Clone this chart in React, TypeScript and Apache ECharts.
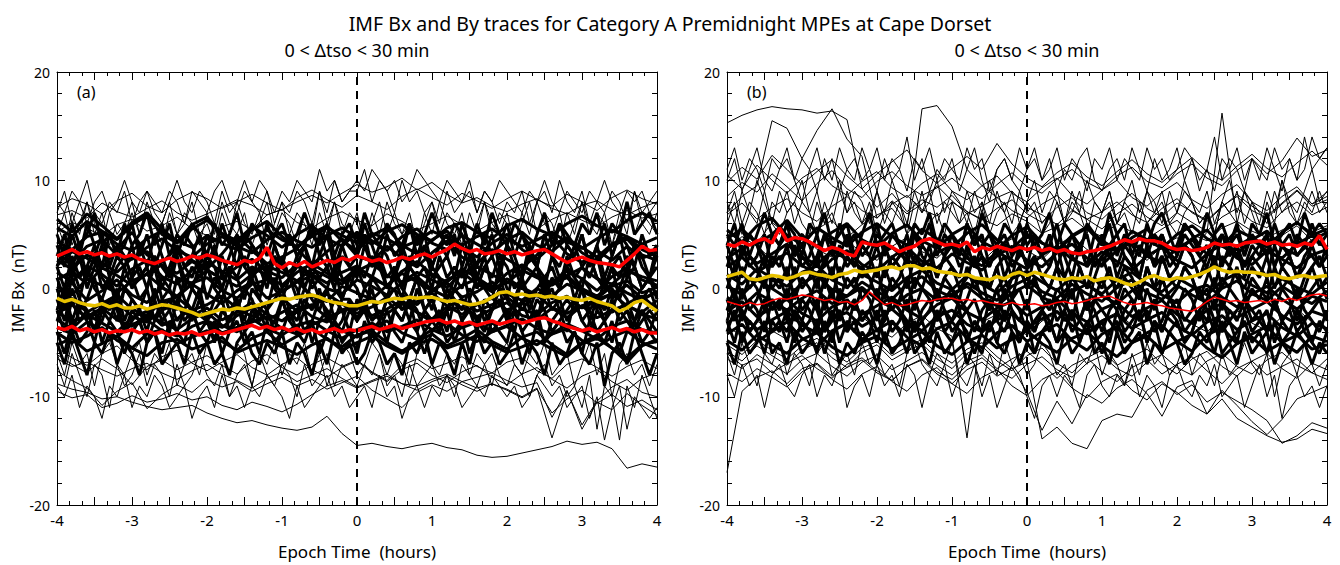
import React, { useEffect, useRef } from "react";
import * as echarts from "echarts";

// Epoch time grids (hours from onset)
const HOURS_12MIN = [
  -4, -3.8, -3.6, -3.4, -3.2, -3, -2.8, -2.6, -2.4, -2.2,
  -2, -1.8, -1.6, -1.4, -1.2, -1, -0.8, -0.6, -0.4, -0.2,
  0, 0.2, 0.4, 0.6, 0.8, 1, 1.2, 1.4, 1.6, 1.8,
  2, 2.2, 2.4, 2.6, 2.8, 3, 3.2, 3.4, 3.6, 3.8, 4,
];

const HOURS_6MIN = [
  -4, -3.9, -3.8, -3.7, -3.6, -3.5, -3.4, -3.3, -3.2, -3.1,
  -3, -2.9, -2.8, -2.7, -2.6, -2.5, -2.4, -2.3, -2.2, -2.1,
  -2, -1.9, -1.8, -1.7, -1.6, -1.5, -1.4, -1.3, -1.2, -1.1,
  -1, -0.9, -0.8, -0.7, -0.6, -0.5, -0.4, -0.3, -0.2, -0.1,
  0, 0.1, 0.2, 0.3, 0.4, 0.5, 0.6, 0.7, 0.8, 0.9,
  1, 1.1, 1.2, 1.3, 1.4, 1.5, 1.6, 1.7, 1.8, 1.9,
  2, 2.1, 2.2, 2.3, 2.4, 2.5, 2.6, 2.7, 2.8, 2.9,
  3, 3.1, 3.2, 3.3, 3.4, 3.5, 3.6, 3.7, 3.8, 3.9, 4,
];

// Individual event traces, IMF Bx (nT), sampled every 12 min
const BX_TRACES: number[][] = [
  [6.8,7.2,6.5,7.9,7.1,6.6,7.4,8.1,7.0,6.3,6.9,7.5,8.2,7.7,6.8,7.3,8.0,8.6,7.9,8.8,9.6,8.9,9.4,10.2,9.1,9.8,8.7,7.9,8.4,7.6,7.1,7.8,8.3,7.4,6.9,7.7,8.1,7.3,6.8,7.5,8.0],
  [5.2,6.1,5.6,4.8,5.9,6.4,5.3,5.8,6.6,5.5,4.9,5.7,6.2,5.4,6.8,7.3,6.1,5.6,6.5,7.1,6.3,5.8,6.9,6.2,5.4,6.0,6.7,5.9,5.3,6.1,6.8,6.2,5.5,6.4,7.0,6.3,5.7,6.6,7.2,6.5,6.9],
  [4.3,3.6,4.8,5.2,4.1,3.5,4.6,5.3,4.4,3.8,4.9,4.2,3.6,4.7,5.4,4.5,3.9,4.8,5.6,4.9,4.2,5.1,4.6,3.8,4.4,5.3,4.7,4.0,4.8,5.5,4.6,3.9,4.5,5.2,4.3,3.7,4.6,5.4,4.8,4.1,4.7],
  [2.1,3.4,2.8,1.9,3.6,5.2,3.1,2.4,3.8,2.6,1.8,3.2,4.9,3.5,2.3,2.9,3.7,2.2,3.4,4.6,3.0,2.5,3.9,2.8,2.0,3.3,4.4,2.9,2.3,3.6,2.7,1.9,3.1,4.8,3.2,2.4,3.5,2.6,3.9,2.8,3.3],
  [0.8,1.6,0.4,1.9,1.2,0.3,1.4,2.2,1.0,0.5,1.7,0.9,0.2,1.3,2.1,1.5,0.7,1.8,1.1,0.4,1.6,2.3,1.2,0.6,1.5,0.8,0.1,1.4,2.0,1.3,0.5,1.7,1.0,0.3,1.2,1.9,0.9,0.4,1.6,1.1,0.7],
  [-0.4,0.5,-1.1,-0.2,0.8,-0.6,-1.3,0.1,-0.8,0.4,-0.5,-1.4,-0.2,0.6,-0.9,-0.3,0.7,-0.7,-1.2,0.2,-0.4,-1.0,0.3,-0.6,-1.5,-0.1,0.5,-0.8,-0.3,0.6,-0.5,-1.1,0.0,-0.7,0.4,-0.2,-1.0,-0.5,0.3,-0.9,-0.4],
  [-2.3,-1.5,-2.8,-1.9,-1.2,-2.6,-3.1,-2.0,-1.4,-2.5,-1.8,-2.9,-2.2,-1.3,-2.4,-3.0,-1.9,-1.5,-2.7,-2.1,-1.6,-2.8,-2.3,-1.4,-2.2,-3.1,-2.0,-1.7,-2.6,-1.9,-1.3,-2.5,-2.9,-1.8,-2.3,-1.6,-2.7,-2.0,-1.5,-2.4,-2.8],
  [-3.6,-4.2,-3.1,-3.8,-4.5,-3.3,-2.9,-3.9,-4.4,-3.5,-3.0,-4.1,-3.6,-2.8,-3.7,-4.3,-3.4,-3.0,-3.9,-4.6,-3.8,-3.2,-4.0,-3.5,-2.9,-3.8,-4.4,-3.6,-3.1,-4.0,-3.4,-2.8,-3.7,-4.2,-3.3,-3.9,-4.7,-3.5,-3.0,-3.8,-4.1],
  [-5.2,-4.6,-5.8,-5.1,-4.4,-5.5,-6.2,-5.0,-4.7,-5.6,-5.1,-4.5,-5.9,-5.3,-4.8,-5.4,-6.1,-5.2,-4.6,-5.7,-5.0,-4.4,-5.3,-6.0,-5.1,-4.7,-5.5,-5.0,-4.3,-5.2,-5.9,-5.4,-4.8,-5.6,-6.3,-5.1,-4.6,-5.5,-6.4,-5.2,-4.9],
  [-6.1,-7.0,-7.8,-6.5,-7.4,-8.9,-7.2,-6.6,-7.5,-6.8,-6.2,-7.1,-7.9,-6.7,-6.1,-7.3,-8.0,-7.0,-6.4,-7.2,-6.6,-7.7,-8.5,-7.1,-6.5,-7.4,-6.9,-6.3,-7.2,-7.8,-6.8,-6.4,-7.6,-8.3,-7.0,-6.5,-7.3,-8.1,-7.2,-6.6,-7.4],
  [-7.6,-8.5,-9.2,-10.8,-9.5,-8.7,-11.1,-9.8,-8.9,-9.6,-8.4,-9.1,-8.6,-9.5,-8.8,-8.2,-9.0,-8.4,-9.3,-8.7,-8.1,-9.4,-10.2,-11.0,-9.6,-8.9,-9.5,-8.6,-9.2,-8.8,-9.4,-10.1,-9.3,-11.5,-10.2,-9.4,-10.6,-9.8,-10.9,-10.3,-11.2],
  [-8.8,-9.3,-9.6,-10.2,-10.0,-10.5,-10.9,-11.2,-11.0,-10.8,-11.5,-12.0,-12.4,-12.2,-12.6,-12.9,-13.1,-12.8,-11.8,-13.4,-14.5,-14.3,-14.6,-14.8,-14.5,-14.3,-14.7,-14.9,-15.4,-15.6,-15.5,-15.2,-14.9,-14.6,-14.1,-14.4,-14.2,-14.8,-16.6,-16.2,-16.5],
  [-6.5,-7.2,-6.8,-7.5,-8.1,-7.4,-6.9,-7.8,-8.4,-7.6,-7.0,-7.9,-8.5,-9.2,-8.3,-7.7,-8.6,-8.0,-7.4,-8.3,-9.1,-8.5,-7.9,-8.8,-9.4,-8.6,-8.1,-8.9,-9.5,-8.8,-9.3,-10.0,-9.2,-13.8,-9.5,-12.6,-10.4,-9.1,-8.4,-9.6,-10.0],
  [-9.5,-10.1,-9.8,-11.0,-10.6,-9.9,-10.5,-10.2,-9.7,-10.3,-10.0,-10.8,-11.2,-10.5,-10.9,-11.4,-10.7,-9.8,-9.0,-8.5,-9.2,-8.6,-8.1,-8.8,-9.0,-8.4,-7.9,-8.6,-8.2,-7.8,-8.5,-9.1,-8.7,-11.9,-9.4,-13.0,-10.5,-11.2,-9.7,-10.8,-11.7],
  [3.2,2.4,3.9,4.5,3.1,2.7,3.8,4.6,3.5,2.9,4.1,4.8,3.9,3.3,4.5,5.2,4.4,3.8,4.9,5.6,4.7,4.1,5.3,5.9,5.0,4.4,5.6,6.1,5.2,4.6,5.8,6.4,5.5,4.9,6.0,6.7,5.8,5.2,6.3,7.0,6.2],
  [1.5,0.6,2.1,1.3,0.2,1.8,2.6,1.1,0.4,1.7,2.4,1.6,0.8,2.0,1.2,0.3,1.5,2.3,1.4,0.7,1.9,1.1,0.2,1.6,2.5,1.3,0.6,1.8,1.0,0.1,1.4,2.2,1.2,0.5,1.7,0.9,-0.2,1.1,1.9,0.8,0.3],
  [-1.8,-0.9,-2.2,-1.4,-0.6,-1.9,-2.5,-1.2,-0.8,-2.0,-1.5,-0.7,-1.8,-2.6,-1.3,-0.9,-2.1,-1.6,-0.5,-1.4,-2.3,-1.7,-0.8,-1.9,-1.2,-0.4,-1.6,-2.4,-1.5,-0.9,-2.0,-1.3,-0.6,-1.8,-2.7,-1.6,-1.0,-2.2,-1.4,-0.7,-1.9],
  [-4.1,-5.0,-4.4,-3.6,-4.8,-5.5,-4.2,-3.8,-5.1,-4.5,-3.9,-4.9,-5.7,-4.6,-4.0,-5.2,-4.4,-3.7,-4.7,-5.4,-4.3,-3.9,-5.0,-5.8,-4.9,-4.2,-5.3,-4.6,-3.8,-4.9,-5.6,-4.5,-4.0,-5.2,-6.1,-5.0,-4.3,-5.5,-6.8,-5.3,-4.7],
  [2.6,1.8,3.1,2.3,1.5,2.8,3.4,2.1,1.4,2.5,1.7,0.9,2.0,2.7,1.6,1.0,2.2,1.3,0.5,1.5,2.1,0.9,0.3,1.4,0.6,-0.2,0.8,1.5,0.4,-0.3,0.9,0.1,-0.6,0.5,1.2,0.0,-0.7,0.4,-0.4,-1.1,-0.2],
  [5.6,4.8,6.2,5.3,4.5,5.9,6.7,5.0,4.2,5.5,6.3,5.1,4.4,5.7,4.9,3.8,5.0,5.8,4.6,3.9,5.2,4.4,3.5,4.8,5.5,4.2,3.6,4.9,4.1,3.3,4.5,5.2,4.0,3.4,4.6,3.8,2.9,4.1,4.8,3.6,3.0],
  [-2.9,-3.7,-2.4,-3.2,-4.0,-2.7,-2.1,-3.4,-2.8,-1.9,-3.0,-3.6,-2.5,-1.8,-2.9,-2.2,-1.5,-2.6,-3.1,-2.0,-1.4,-2.5,-1.9,-1.1,-2.2,-2.8,-1.7,-1.0,-2.1,-1.5,-0.8,-1.9,-2.4,-1.3,-0.7,-1.8,-1.2,-0.5,-1.6,-2.2,-1.1],
  [7.5,8.3,7.8,6.9,8.1,8.8,7.6,7.0,8.2,8.9,8.3,7.4,8.0,8.7,7.9,7.2,8.4,9.1,8.2,7.5,8.6,8.0,7.3,8.5,9.2,8.4,7.7,8.8,8.1,7.4,8.3,9.0,8.2,7.6,8.7,8.0,7.2,8.4,9.1,8.3,7.8],
  [-5.5,-6.4,-7.1,-6.0,-5.3,-6.6,-7.5,-6.3,-5.7,-6.9,-7.6,-6.8,-6.1,-7.3,-8.0,-7.0,-6.4,-7.5,-8.2,-7.3,-6.7,-7.8,-8.6,-7.5,-6.9,-8.0,-8.7,-7.7,-7.1,-8.2,-8.9,-7.9,-7.3,-8.4,-9.2,-8.1,-7.5,-8.6,-9.4,-8.3,-7.8],
  [0.2,-0.6,0.9,0.3,-0.4,0.7,1.3,0.1,-0.7,0.5,1.0,-0.2,-0.9,0.4,0.8,-0.3,0.6,1.2,0.0,-0.5,0.8,0.2,-0.6,0.5,1.1,-0.1,-0.8,0.3,0.9,-0.2,0.6,0.0,-0.7,0.4,1.0,-0.3,-0.9,0.2,0.7,-0.4,0.1],
  [-2.2,-3.0,-2.6,-1.8,-2.9,-3.5,-2.4,-3.1,-3.8,-2.8,-2.2,-3.4,-4.0,-3.1,-2.6,-3.7,-4.2,-3.3,-2.8,-3.9,-4.5,-3.6,-3.0,-4.1,-4.7,-3.8,-3.2,-4.3,-4.9,-4.0,-3.5,-4.6,-5.2,-4.2,-3.7,-4.8,-5.4,-4.5,-3.9,-5.0,-5.6],
  [6.4,5.2,6.9,5.8,4.6,6.1,7.0,5.5,4.3,5.9,6.6,5.0,4.1,5.4,6.2,4.8,3.7,5.1,5.8,4.4,3.5,4.9,5.6,4.0,3.2,4.5,5.3,3.8,2.9,4.2,5.0,3.6,2.7,4.0,4.7,3.3,2.5,3.9,4.6,3.1,2.6],
];

// Further IMF Bx (nT) traces, sampled every 6 min
const BX_TRACES_6MIN: number[][] = [
  [7,9,6,8,10,7,6,8,7,9,6,8,9,7,6,8,10,8,7,9,8,6,9,7,8,10,8,7,9,6,8,7,9,8,6,9,7,10,8,9,9,11,8,10,9,7,10,8,9,7,8,6,9,7,8,10,7,9,8,6,8,7,9,6,8,9,7,10,8,7,9,6,8,7,9,8,6,9,7,8,9],
  [5,7,4,6,8,5,7,4,6,5,7,5,8,6,4,7,5,6,8,5,6,4,7,5,8,6,5,7,4,6,8,5,7,6,4,7,5,8,6,5,7,4,6,8,5,7,5,6,4,7,5,8,6,5,7,4,6,8,5,7,6,4,7,5,8,6,5,7,4,6,8,5,7,6,4,7,5,9,6,5,7],
  [4,2,5,3,6,4,2,5,3,4,6,3,5,2,4,6,3,5,4,2,5,3,6,4,2,5,4,3,6,4,2,5,3,4,6,3,5,2,4,5,3,6,4,2,5,3,4,6,3,5,2,4,5,3,6,4,2,5,3,4,6,3,5,4,2,5,3,6,4,3,5,2,4,6,3,5,4,2,5,3,4],
  [3,5,2,4,1,3,5,2,4,3,1,4,2,5,3,1,4,2,3,5,2,4,1,3,5,2,4,3,1,4,2,5,3,4,2,5,3,1,4,2,3,5,2,4,3,1,4,2,5,3,2,4,3,5,2,4,1,3,5,2,4,3,1,4,2,5,3,2,4,3,5,2,4,1,3,5,2,4,3,1,4],
  [2,0,3,1,2,4,1,0,2,3,1,2,0,3,2,1,3,0,2,1,3,2,0,2,1,3,1,2,0,3,2,1,3,0,2,1,2,3,1,0,2,1,3,2,0,1,3,2,1,2,0,3,1,2,1,3,0,2,1,3,2,0,1,3,2,1,2,0,3,1,2,3,1,0,2,1,3,2,0,1,2],
  [0,-2,1,-1,2,0,-1,1,-2,0,1,-1,0,2,-1,0,-2,1,0,-1,2,0,-1,1,-2,0,1,-1,2,0,-1,1,0,-2,1,-1,0,2,-1,1,0,-2,1,0,-1,2,0,-1,1,0,-2,1,-1,0,2,-1,1,0,-1,2,0,-1,1,-2,0,1,-1,0,2,-1,1,0,-2,1,-1,0,2,-1,0,1,-1],
  [-1,-3,0,-2,-1,1,-2,-1,-3,0,-1,-2,0,-3,-1,-2,1,-1,-2,0,-3,-1,0,-2,-1,-3,0,-1,-2,1,-1,-3,-2,0,-1,-2,0,-3,-1,-1,-2,0,-1,-3,-1,0,-2,-1,1,-2,-1,-3,0,-1,-2,0,-1,-3,-2,0,-1,-2,1,-1,-3,-1,0,-2,-1,-2,0,-3,-1,-2,0,-1,-2,-3,-1,0,-2],
  [-2,-4,-1,-3,-2,-4,-3,-1,-2,-4,-3,-2,-4,-1,-3,-2,-4,-2,-3,-1,-3,-4,-2,-3,-1,-4,-2,-3,-2,-4,-1,-3,-2,-4,-3,-1,-2,-3,-4,-2,-3,-1,-3,-2,-4,-2,-3,-1,-2,-4,-3,-2,-4,-1,-3,-2,-3,-4,-2,-1,-3,-2,-4,-3,-1,-2,-4,-3,-2,-1,-3,-4,-2,-3,-1,-3,-2,-4,-3,-2,-3],
  [-4,-6,-3,-5,-4,-2,-5,-3,-4,-6,-4,-3,-5,-4,-6,-3,-4,-5,-2,-4,-5,-3,-6,-4,-3,-5,-4,-6,-3,-5,-4,-2,-4,-5,-3,-6,-4,-3,-5,-4,-6,-3,-5,-4,-2,-4,-5,-3,-4,-6,-4,-3,-5,-4,-3,-6,-4,-5,-3,-4,-5,-2,-4,-6,-3,-5,-4,-3,-5,-4,-6,-3,-4,-5,-3,-6,-4,-3,-5,-4,-5],
  [-5,-7,-4,-6,-8,-5,-6,-4,-7,-5,-6,-8,-5,-4,-7,-6,-5,-7,-4,-6,-5,-7,-6,-8,-5,-4,-6,-7,-5,-6,-4,-7,-5,-6,-8,-5,-7,-4,-6,-5,-7,-6,-4,-5,-7,-6,-8,-5,-6,-4,-7,-5,-6,-8,-5,-7,-4,-6,-5,-7,-6,-4,-7,-5,-6,-8,-5,-7,-6,-4,-6,-7,-5,-9,-6,-5,-7,-4,-6,-8,-6],
  [-7,-9,-6,-8,-10,-7,-8,-11,-7,-9,-8,-6,-9,-7,-8,-10,-7,-9,-8,-6,-8,-9,-7,-10,-8,-7,-9,-6,-8,-9,-7,-8,-10,-7,-9,-8,-6,-9,-7,-8,-9,-7,-8,-6,-9,-8,-10,-7,-9,-8,-7,-9,-8,-10,-7,-8,-9,-7,-6,-8,-9,-7,-8,-10,-8,-7,-9,-8,-10,-9,-11,-8,-13,-9,-10,-14,-9,-11,-8,-10,-12],
  [6,4,7,5,8,6,4,7,5,6,8,5,7,4,6,8,5,7,6,4,7,5,8,6,5,7,4,6,8,5,7,6,4,7,5,9,6,8,5,7,6,4,7,5,8,6,5,7,4,6,8,5,7,6,4,7,5,8,6,5,7,4,6,8,5,7,6,4,7,5,8,6,5,7,4,6,8,5,7,6,5],
  [2,4,1,3,0,2,4,1,3,2,4,1,2,3,0,2,4,2,1,3,2,0,3,1,4,2,1,3,2,0,3,1,2,4,1,3,2,0,3,2,1,4,2,3,1,2,0,3,2,4,1,2,3,1,4,2,0,2,3,1,4,2,1,3,2,0,3,1,2,4,2,1,3,0,2,3,1,4,2,1,3],
  [-3,-1,-4,-2,-3,-5,-2,-3,-1,-4,-2,-3,-5,-3,-2,-4,-1,-3,-2,-4,-3,-5,-2,-3,-1,-4,-3,-2,-4,-3,-1,-3,-4,-2,-5,-3,-2,-4,-3,-1,-3,-2,-4,-3,-5,-2,-3,-1,-4,-2,-3,-4,-2,-5,-3,-1,-3,-2,-4,-3,-2,-4,-1,-3,-2,-5,-3,-2,-4,-1,-3,-2,-4,-3,-5,-2,-3,-4,-2,-3,-4],
  [1,-1,2,0,1,3,0,1,-1,2,0,1,2,-1,1,0,3,1,0,2,-1,1,0,2,1,-1,2,0,1,3,0,1,-1,2,0,1,2,0,-1,1,2,0,1,3,0,1,-1,2,1,0,2,1,-1,1,0,2,1,3,0,1,-1,2,0,1,2,-1,1,0,2,1,0,3,1,0,2,-1,1,2,0,1,0],
  [-6,-8,-5,-7,-6,-9,-6,-5,-7,-8,-6,-5,-8,-6,-7,-5,-9,-7,-6,-8,-5,-7,-6,-8,-5,-6,-9,-6,-7,-5,-8,-6,-7,-5,-8,-6,-9,-7,-5,-6,-8,-7,-5,-6,-8,-6,-7,-9,-6,-5,-7,-8,-6,-7,-5,-8,-6,-7,-9,-6,-5,-7,-8,-6,-7,-5,-8,-7,-6,-9,-7,-5,-8,-6,-10,-7,-6,-8,-7,-9,-7],
  [5,3,6,4,5,7,4,5,3,6,4,5,7,4,6,3,5,4,6,5,3,6,4,5,7,4,6,5,3,5,6,4,5,7,5,4,6,3,5,6,4,7,5,4,6,5,3,6,4,5,7,5,4,6,5,3,6,4,7,5,4,6,5,3,5,7,4,6,5,4,6,5,7,4,6,5,8,5,6,7,5],
  [-2,0,-3,-1,-2,-4,-1,-2,0,-3,-1,-2,-3,0,-2,-1,-3,-2,0,-1,-3,-2,-1,-4,-2,0,-1,-3,-2,-1,0,-2,-3,-1,-2,0,-3,-1,-2,-4,-1,-2,0,-3,-1,-2,-1,-3,0,-2,-1,-3,-2,0,-1,-2,-4,-1,-2,0,-3,-1,-2,-1,-3,0,-2,-1,-3,-2,0,-2,-1,-3,-2,0,-1,-3,-2,-4,-2],
  [8,7,9,8,6,8,9,7,8,10,8,7,9,8,7,9,8,6,9,8,7,9,10,8,7,9,8,10,9,7,9,8,10,9,8,11,9,10,8,9,10,9,11,10,9,10,8,9,11,10,9,8,10,9,8,9,7,9,8,10,9,8,7,9,8,10,8,7,9,8,7,9,8,10,8,7,9,8,9,7,8],
  [-9,-10,-8,-11,-9,-10,-12,-9,-10,-8,-11,-9,-10,-8,-9,-11,-10,-9,-12,-10,-9,-11,-8,-10,-9,-11,-9,-10,-8,-9,-10,-12,-9,-11,-10,-9,-8,-10,-9,-11,-10,-9,-11,-8,-10,-9,-12,-10,-9,-11,-9,-10,-8,-9,-11,-10,-9,-10,-8,-9,-10,-9,-11,-10,-8,-9,-10,-9,-11,-10,-9,-12,-10,-14,-11,-9,-13,-10,-11,-12,-11],
];

// Individual event traces, IMF By (nT), sampled every 12 min
const BY_TRACES: number[][] = [
  [15.3,16.0,16.5,16.8,16.6,16.5,16.2,16.4,15.6,9.2,7.5,8.8,7.1,8.2,7.5,8.6,7.1,6.4,5.8,6.9,6.2,5.1,5.7,6.5,5.4,4.8,6.0,5.2,4.6,5.5,6.3,5.0,4.4,5.6,6.2,5.3,4.7,5.4,6.1,5.2,5.8],
  [7.0,8.5,9.5,15.5,14.8,12.0,14.6,16.6,13.8,12.2,6.5,8.1,6.9,7.8,9.5,8.1,6.9,7.6,8.4,7.2,6.5,7.8,8.6,7.3,6.4,7.1,8.0,6.8,6.1,7.4,8.3,7.0,6.2,7.5,8.7,7.6,6.7,7.9,9.1,7.8,8.5],
  [4.5,5.6,4.2,6.1,5.0,3.8,5.5,6.3,4.7,5.9,6.8,7.4,5.6,16.6,16.9,15.0,11.0,9.5,8.4,9.0,7.5,6.8,5.9,7.2,6.4,5.5,6.9,7.8,6.6,5.8,7.0,6.1,5.3,6.6,7.4,6.2,5.6,7.1,8.0,6.8,7.5],
  [3.5,4.8,3.9,2.7,4.2,5.1,3.6,2.9,4.4,3.3,2.6,3.9,4.7,3.4,2.8,4.1,3.2,2.5,3.8,4.6,3.5,2.7,4.0,4.8,3.6,2.9,4.3,3.4,2.6,3.9,4.7,3.5,5.2,16.2,6.1,4.3,3.6,4.9,5.8,4.4,3.8],
  [8.5,9.8,8.9,10.6,9.4,8.1,9.7,10.9,9.2,8.4,9.9,10.8,9.5,8.6,9.3,10.2,9.0,8.3,9.6,10.7,9.4,8.8,10.1,11.0,9.8,9.1,10.4,11.2,9.9,9.3,10.6,11.5,10.2,9.5,10.9,12.0,10.6,11.8,13.9,12.2,12.8],
  [6.8,7.9,6.4,7.5,8.3,7.0,6.2,7.6,8.5,7.2,6.5,7.8,8.6,7.3,6.7,8.0,7.1,6.3,7.4,8.2,6.9,6.1,7.5,8.4,7.0,6.4,7.7,8.8,7.4,6.6,7.9,7.1,6.3,7.6,8.5,7.2,6.5,7.8,9.0,7.6,8.2],
  [5.4,4.3,5.8,6.5,4.9,4.1,5.6,4.7,3.9,5.2,6.0,4.8,4.0,5.5,4.6,3.8,5.1,5.9,4.5,3.7,5.0,4.2,3.5,4.9,5.7,4.4,3.6,5.3,4.5,3.7,5.0,5.8,4.6,3.9,5.4,4.7,3.8,5.2,6.1,4.9,5.5],
  [2.8,3.7,2.3,3.2,4.1,2.9,2.2,3.5,2.7,1.9,3.0,3.8,2.6,2.0,3.3,4.0,2.8,2.1,3.4,2.6,1.8,3.1,3.9,2.7,2.1,3.4,2.5,1.7,3.0,3.8,2.6,1.9,3.2,4.1,2.8,2.2,3.5,2.7,1.9,3.1,3.6],
  [1.3,0.4,1.8,1.0,0.2,1.5,2.1,0.8,0.1,1.3,0.6,-0.2,1.0,1.7,0.5,-0.1,1.2,0.4,-0.4,0.9,1.6,0.6,-0.2,1.1,0.3,-0.5,0.8,1.5,0.4,-0.3,1.0,0.2,-0.6,0.7,1.4,0.3,-0.4,0.9,0.1,-0.5,0.6],
  [-0.8,-1.7,-0.4,-1.2,-2.0,-0.9,-0.2,-1.4,-0.7,0.1,-1.0,-1.8,-0.6,0.0,-1.1,-0.5,0.2,-0.9,-1.6,-0.4,0.3,-0.8,-1.5,-0.3,0.4,-0.7,-1.4,-0.2,0.5,-0.6,-1.3,-0.1,0.3,-0.8,-1.7,-0.5,0.2,-1.0,-1.9,-0.7,-1.2],
  [-3.2,-2.3,-3.8,-2.9,-2.1,-3.4,-4.1,-2.8,-2.2,-3.5,-2.7,-1.9,-3.1,-3.9,-2.6,-2.0,-3.3,-4.0,-2.9,-2.3,-3.6,-2.8,-2.1,-3.4,-4.2,-3.0,-2.4,-3.7,-2.9,-2.2,-3.5,-4.3,-3.1,-2.5,-3.8,-3.0,-2.3,-3.6,-4.4,-3.2,-3.7],
  [-4.8,-5.7,-4.3,-5.2,-6.0,-4.7,-4.1,-5.4,-6.2,-5.0,-4.4,-5.6,-4.8,-4.0,-5.3,-6.1,-4.9,-4.3,-5.5,-4.7,-3.9,-5.1,-5.9,-4.6,-4.0,-5.3,-6.3,-5.0,-4.4,-5.7,-4.9,-4.2,-5.5,-6.4,-5.1,-4.5,-5.8,-5.0,-4.3,-5.6,-5.2],
  [-6.5,-7.4,-6.1,-7.0,-7.9,-6.6,-6.0,-7.2,-8.1,-6.8,-6.2,-7.5,-6.7,-5.9,-7.1,-8.0,-6.7,-6.1,-7.4,-6.5,-5.8,-7.0,-8.3,-7.1,-6.4,-7.7,-8.6,-7.3,-6.6,-7.9,-7.0,-6.3,-7.6,-8.8,-7.4,-6.7,-8.0,-7.2,-6.5,-7.8,-8.4],
  [-17.0,-9.5,-8.2,-7.6,-8.8,-7.4,-6.9,-8.1,-7.3,-6.6,-7.8,-8.5,-7.2,-6.5,-7.7,-8.4,-7.1,-6.4,-7.6,-8.3,-7.0,-6.3,-7.5,-8.2,-6.9,-6.2,-7.4,-8.1,-6.8,-6.1,-7.3,-8.0,-6.7,-6.0,-7.2,-7.9,-6.6,-5.9,-7.1,-7.8,-6.5],
  [-3.5,-4.4,-3.0,-3.9,-4.7,-3.4,-2.8,-4.1,-3.3,-2.6,-3.8,-4.5,-3.2,-2.5,-3.7,-4.4,-13.8,-3.1,-2.4,-3.6,-4.3,-3.0,-2.3,-3.5,-4.2,-2.9,-2.2,-3.4,-4.1,-2.8,-2.1,-3.3,-4.0,-2.7,-2.0,-3.2,-3.9,-2.6,-1.9,-3.1,-3.8],
  [-5.2,-6.1,-4.8,-5.7,-6.5,-5.3,-4.6,-5.9,-6.8,-5.5,-4.9,-6.2,-5.4,-4.7,-6.0,-6.9,-5.6,-5.0,-6.3,-7.4,-6.8,-13.9,-12.8,-14.3,-14.8,-12.2,-11.6,-11.9,-9.4,-8.6,-9.8,-8.9,-10.5,-9.6,-10.4,-11.2,-12.2,-14.3,-13.6,-12.4,-12.9],
  [-6.0,-7.1,-6.5,-7.8,-6.9,-6.2,-7.4,-8.3,-7.0,-6.4,-7.6,-8.5,-7.2,-6.6,-7.9,-8.8,-7.5,-6.8,-8.1,-7.3,-9.6,-13.1,-10.4,-12.5,-9.8,-10.6,-9.2,-8.4,-9.7,-11.8,-9.1,-8.5,-11.6,-9.4,-10.8,-12.3,-13.5,-12.1,-10.2,-9.6,-9.0],
  [9.8,11.2,10.1,12.3,11.0,9.6,10.8,11.9,10.4,9.2,10.6,11.7,12.8,10.9,9.7,11.1,12.2,11.0,13.4,11.5,10.2,9.4,10.7,11.6,10.3,9.5,10.8,11.9,10.6,9.8,11.0,12.1,10.8,10.0,11.3,12.4,11.1,10.3,11.6,12.7,11.4],
  [2.0,2.9,1.5,2.4,3.3,2.1,1.4,2.7,3.5,2.2,1.6,2.9,3.8,2.5,1.9,3.2,2.4,1.7,3.0,3.9,2.6,2.0,3.3,4.1,2.8,2.2,3.5,4.3,3.0,2.4,3.7,4.5,3.2,2.6,3.9,4.7,3.4,2.8,4.1,4.9,3.6],
  [-2.1,-1.2,-2.6,-1.8,-1.0,-2.3,-3.0,-1.7,-1.1,-2.4,-1.6,-0.8,-2.0,-2.8,-1.5,-0.9,-2.2,-2.9,-1.8,-1.2,-2.5,-1.7,-1.0,-2.3,-3.1,-1.9,-1.3,-2.6,-1.8,-1.1,-2.4,-3.2,-2.0,-1.4,-2.7,-1.9,-1.2,-2.5,-3.3,-2.1,-2.6],
  [0.3,-0.6,0.8,0.0,-0.9,0.5,1.2,-0.1,-0.7,0.6,-0.3,-1.0,0.4,1.1,-0.2,-0.8,0.5,-0.4,-1.1,0.2,0.9,-0.3,-0.9,0.4,-0.5,-1.2,0.1,0.8,-0.4,-1.0,0.3,-0.6,-1.3,0.0,0.7,-0.5,-1.1,0.2,-0.7,-1.4,-0.2],
  [4.6,5.5,4.1,5.0,6.3,4.7,3.9,5.2,6.0,4.5,3.8,5.1,5.9,4.4,3.7,5.0,5.8,4.3,3.6,4.9,5.7,4.2,3.5,4.8,5.6,4.1,3.4,4.7,5.5,4.0,3.3,4.6,5.4,3.9,3.2,4.5,5.3,3.8,3.1,4.4,5.2],
  [-4.2,-3.3,-4.9,-4.0,-3.1,-4.6,-5.4,-3.9,-3.2,-4.7,-3.8,-3.0,-4.5,-5.3,-3.7,-3.1,-4.6,-5.5,-4.1,-3.4,-4.9,-4.0,-3.3,-4.8,-5.7,-4.2,-3.5,-5.0,-4.1,-3.4,-4.9,-5.8,-4.3,-3.6,-5.1,-4.2,-3.5,-5.0,-5.9,-4.4,-4.9],
  [10.5,9.2,11.4,10.0,8.8,10.2,11.1,9.5,8.6,9.9,10.8,9.3,8.4,9.7,10.6,9.0,8.2,9.5,10.4,8.8,8.0,9.3,10.2,8.6,7.8,9.1,10.0,8.4,7.6,8.9,9.8,8.2,7.4,8.7,9.6,8.0,7.2,8.5,9.4,7.8,8.9],
  [-5.8,-6.7,-5.3,-6.2,-7.1,-5.7,-5.0,-6.4,-7.3,-5.9,-5.2,-6.6,-5.8,-5.1,-6.5,-7.4,-6.0,-5.3,-6.7,-7.6,-6.2,-5.5,-6.9,-7.8,-6.4,-5.7,-7.1,-6.3,-5.6,-7.0,-7.9,-6.5,-5.8,-7.2,-8.1,-6.7,-6.0,-7.4,-8.3,-6.9,-7.5],
  [-7.8,-8.6,-7.4,-8.2,-9.1,-7.7,-7.0,-8.4,-9.3,-7.9,-7.2,-8.6,-9.5,-8.0,-7.3,-8.8,-9.7,-8.2,-7.5,-9.0,-9.9,-8.4,-7.7,-9.2,-10.1,-8.6,-7.9,-9.4,-10.3,-8.8,-9.6,-10.8,-11.6,-10.2,-12.0,-12.8,-13.6,-14.2,-13.9,-13.0,-13.4],
];

// Further IMF By (nT) traces, sampled every 6 min
const BY_TRACES_6MIN: number[][] = [
  [10,12,9,11,13,10,9,11,12,10,8,11,13,10,12,9,11,10,13,11,9,12,10,11,14,10,12,9,11,10,12,9,11,13,10,8,11,12,10,9,11,13,10,12,9,11,10,12,13,10,9,11,12,10,13,11,9,12,10,11,13,10,12,9,11,14,10,12,11,9,12,10,13,11,9,12,10,14,11,12,13],
  [8,6,9,7,10,8,6,9,7,8,10,7,9,6,8,10,7,9,8,6,9,7,10,8,6,9,7,8,10,7,9,8,6,9,7,10,8,7,9,6,8,10,7,9,8,6,9,7,10,8,7,9,6,8,10,7,9,8,6,9,7,10,8,7,9,6,8,10,7,9,8,6,9,7,10,8,7,9,11,8,9],
  [6,8,5,7,6,9,6,5,7,8,6,5,8,6,7,5,9,7,6,8,5,7,6,8,5,6,9,6,7,5,8,6,7,5,8,6,9,7,5,6,8,7,5,6,8,6,7,9,6,5,7,8,6,7,5,8,6,7,9,6,5,7,8,6,7,5,8,7,6,9,7,5,8,6,10,7,6,8,7,9,7],
  [5,4,6,3,5,7,5,4,6,5,3,6,5,7,4,5,6,3,5,7,4,5,6,4,3,6,5,7,4,6,5,3,6,4,7,5,4,6,5,3,6,4,5,7,4,6,5,3,6,5,4,7,5,6,3,5,4,6,7,5,3,6,5,4,7,5,6,4,5,3,6,5,7,4,5,6,4,7,5,6,5],
  [4,6,3,5,4,2,5,4,6,3,5,4,2,5,3,6,4,5,3,4,6,3,5,4,2,5,4,6,3,5,4,3,6,4,5,2,4,5,3,6,4,5,3,4,6,3,5,4,2,5,4,6,3,5,4,3,6,4,5,3,4,6,5,3,4,2,5,4,6,3,5,4,3,6,4,5,3,4,6,4,5],
  [3,1,4,2,3,5,2,3,1,4,2,3,5,2,4,1,3,2,4,3,1,4,2,3,5,2,4,3,1,3,4,2,3,5,3,2,4,1,3,4,2,5,3,2,4,3,1,4,2,3,5,3,2,4,3,1,4,2,5,3,2,4,3,1,3,5,2,4,3,2,4,3,5,2,4,3,1,3,4,5,3],
  [2,4,1,3,2,0,3,2,4,1,3,2,0,3,1,4,2,3,1,2,4,1,3,2,0,3,2,4,1,3,2,1,4,2,3,0,2,3,1,4,2,3,1,2,4,1,3,2,0,3,2,4,1,3,2,1,4,2,3,1,2,4,3,1,2,0,3,2,4,1,3,2,1,4,2,3,1,2,4,2,3],
  [1,-1,2,0,1,3,0,1,-1,2,0,1,3,0,2,-1,1,0,2,1,-1,2,0,1,3,0,2,1,-1,1,2,0,1,3,1,0,2,-1,1,2,0,3,1,0,2,1,-1,2,0,1,3,1,0,2,1,-1,2,0,3,1,0,2,1,-1,1,3,0,2,1,0,2,1,3,0,2,1,-1,1,2,3,1],
  [0,2,-1,1,0,-2,1,0,2,-1,1,0,-2,1,-1,2,0,1,-1,0,2,-1,1,0,-2,1,0,2,-1,1,0,-1,2,0,1,-2,0,1,-1,2,0,1,-1,0,2,-1,1,0,-2,1,0,2,-1,1,0,-1,2,0,1,-1,0,2,1,-1,0,-2,1,0,2,-1,1,0,-1,2,0,1,-1,0,2,0,1],
  [-1,-3,0,-2,-1,1,-2,-1,-3,0,-2,-1,1,-2,0,-3,-1,-2,0,-1,-3,0,-2,-1,1,-2,0,-1,-3,-1,0,-2,-1,1,-1,-2,0,-3,-1,0,-2,1,-1,-2,0,-1,-3,0,-2,-1,1,-1,-2,0,-1,-3,0,-2,1,-1,-2,0,-1,-3,-1,1,-2,0,-1,-2,0,-1,1,-2,0,-1,-3,-1,0,1,-1],
  [-2,0,-3,-1,-2,-4,-1,-2,0,-3,-1,-2,-4,-1,-3,0,-2,-1,-3,-2,0,-3,-1,-2,-4,-1,-3,-2,0,-2,-3,-1,-2,-4,-2,-1,-3,0,-2,-3,-1,-4,-2,-1,-3,-2,0,-3,-1,-2,-4,-2,-1,-3,-2,0,-3,-1,-4,-2,-1,-3,-2,0,-2,-4,-1,-3,-2,-1,-3,-2,-4,-1,-3,-2,0,-2,-3,-4,-2],
  [-3,-5,-2,-4,-3,-1,-4,-3,-5,-2,-4,-3,-1,-4,-2,-5,-3,-4,-2,-3,-5,-2,-4,-3,-1,-4,-3,-5,-2,-4,-3,-2,-5,-3,-4,-1,-3,-4,-2,-5,-3,-4,-2,-3,-5,-2,-4,-3,-1,-4,-3,-5,-2,-4,-3,-2,-5,-3,-4,-2,-3,-5,-4,-2,-3,-1,-4,-3,-5,-2,-4,-3,-2,-5,-3,-4,-2,-3,-5,-3,-4],
  [-4,-2,-5,-3,-4,-6,-3,-4,-2,-5,-3,-4,-6,-3,-5,-2,-4,-3,-5,-4,-2,-5,-3,-4,-6,-3,-5,-4,-2,-4,-5,-3,-4,-6,-4,-3,-5,-2,-4,-5,-3,-6,-4,-3,-5,-4,-2,-5,-3,-4,-6,-4,-3,-5,-4,-2,-5,-3,-6,-4,-3,-5,-4,-2,-4,-6,-3,-5,-4,-3,-5,-4,-6,-3,-5,-4,-2,-4,-5,-6,-4],
  [-5,-7,-4,-6,-5,-3,-6,-5,-7,-4,-6,-5,-3,-6,-4,-7,-5,-6,-4,-5,-7,-4,-6,-5,-3,-6,-5,-7,-4,-6,-5,-4,-7,-5,-6,-3,-5,-6,-4,-7,-5,-6,-4,-5,-7,-4,-6,-5,-3,-6,-5,-7,-4,-6,-5,-4,-7,-5,-6,-4,-5,-7,-6,-4,-5,-3,-6,-5,-7,-4,-6,-5,-4,-7,-5,-6,-4,-5,-7,-5,-6],
  [-6,-8,-5,-7,-9,-6,-7,-5,-8,-6,-7,-9,-6,-5,-8,-7,-6,-8,-5,-7,-6,-8,-7,-9,-6,-5,-7,-8,-6,-7,-5,-8,-6,-7,-9,-6,-8,-5,-7,-6,-8,-7,-5,-6,-8,-7,-9,-6,-7,-5,-8,-6,-7,-9,-6,-8,-5,-7,-6,-8,-7,-5,-8,-6,-7,-9,-6,-8,-7,-5,-7,-8,-6,-10,-7,-6,-8,-5,-7,-9,-7],
  [-8,-10,-7,-9,-8,-11,-8,-7,-9,-10,-8,-7,-10,-8,-9,-7,-11,-9,-8,-10,-7,-9,-8,-10,-7,-8,-11,-8,-9,-7,-10,-8,-9,-7,-10,-8,-11,-9,-7,-8,-10,-12,-9,-8,-10,-8,-9,-11,-8,-7,-9,-10,-8,-9,-7,-10,-8,-9,-11,-8,-7,-9,-10,-8,-9,-7,-10,-9,-8,-11,-9,-7,-10,-8,-12,-9,-8,-10,-9,-11,-9],
  [11,13,10,12,11,9,12,11,13,10,12,11,9,12,10,13,11,12,10,11,13,10,12,11,9,12,11,13,10,12,11,10,13,11,12,9,11,12,10,13,11,12,10,11,13,10,12,11,9,12,11,13,10,12,11,10,13,11,12,10,11,13,12,10,11,9,12,11,13,10,12,11,10,13,11,12,10,11,14,12,13],
  [7,9,6,8,7,5,8,7,9,6,8,7,5,8,6,9,7,8,6,7,9,6,8,7,5,8,7,9,6,8,7,6,9,7,8,5,7,8,6,9,7,8,6,7,9,6,8,7,5,8,7,9,6,8,7,6,9,7,8,6,7,9,8,6,7,5,8,7,9,6,8,7,6,9,7,8,6,7,9,7,8],
  [-3,-1,-2,-4,-3,-2,-1,-3,-4,-2,-3,-1,-2,-4,-3,-2,-4,-1,-3,-2,-4,-3,-1,-2,-3,-4,-2,-1,-3,-2,-4,-3,-2,-1,-3,-4,-2,-3,-1,-2,-4,-3,-2,-4,-1,-3,-2,-3,-4,-1,-2,-3,-4,-2,-1,-3,-2,-4,-3,-1,-2,-4,-3,-2,-1,-3,-4,-2,-3,-1,-2,-3,-4,-1,-3,-2,-4,-3,-2,-1,-3],
  [4,2,3,5,4,3,2,4,5,3,4,2,3,5,4,3,5,2,4,3,5,4,2,3,4,5,3,2,4,3,5,4,3,2,4,5,3,4,2,3,5,4,3,5,2,4,3,4,5,2,3,4,5,3,2,4,3,5,4,2,3,5,4,3,2,4,5,3,4,2,3,4,5,2,4,3,5,4,3,2,4],
];

// Summary curves (6-min resolution): upper, median and lower statistics
const BX_UPPER = [
  3.0,3.3,3.6,3.2,3.4,3.1,3.3,3.0,3.2,2.9,
  3.1,2.7,2.5,2.3,2.6,2.8,2.5,2.7,3.0,2.8,
  3.1,2.9,2.6,2.4,2.2,2.6,2.4,2.8,3.8,2.3,
  1.9,2.4,2.1,2.5,2.0,2.3,2.6,2.4,2.8,2.6,
  3.0,2.8,2.5,2.7,2.4,2.6,2.9,2.7,3.0,3.2,
  2.9,3.3,3.6,4.1,3.7,3.4,3.6,3.2,3.3,3.5,
  3.2,3.4,3.1,3.3,3.5,3.6,3.2,2.8,2.4,2.7,
  2.9,2.6,2.4,2.3,2.2,2.0,2.6,3.2,3.9,3.5,
  3.6,
];
const BX_MEDIAN = [
  -0.9,-1.2,-1.0,-1.3,-1.5,-1.6,-1.4,-1.7,-1.5,-1.8,
  -1.8,-1.6,-1.9,-1.7,-1.5,-1.6,-1.8,-2.0,-2.2,-2.5,
  -2.3,-2.1,-1.9,-2.0,-1.8,-1.9,-1.7,-1.5,-1.3,-1.1,
  -0.9,-1.0,-0.8,-0.7,-0.6,-0.8,-1.1,-1.3,-1.4,-1.6,
  -1.6,-1.4,-1.2,-1.3,-1.1,-0.9,-1.0,-0.8,-0.9,-0.8,
  -0.8,-1.0,-1.2,-1.1,-1.3,-1.5,-1.4,-1.2,-0.8,-0.4,
  -0.3,-0.6,-0.5,-0.7,-0.6,-0.8,-0.7,-0.9,-0.8,-1.0,
  -1.1,-0.9,-1.2,-1.4,-1.6,-2.1,-1.8,-1.3,-1.1,-1.6,
  -2.1,
];
const BX_LOWER = [
  -3.6,-3.8,-3.5,-3.9,-3.7,-4.0,-3.8,-4.1,-3.9,-4.0,
  -3.8,-4.1,-3.9,-4.2,-4.0,-4.3,-4.1,-4.2,-4.0,-4.3,
  -4.1,-3.9,-4.2,-4.0,-3.8,-3.6,-3.4,-3.7,-3.5,-3.8,
  -3.6,-3.9,-3.7,-4.0,-3.8,-4.1,-3.9,-3.7,-4.0,-3.8,
  -3.9,-3.7,-3.5,-3.8,-3.6,-3.4,-3.7,-3.5,-3.3,-3.1,
  -3.0,-2.9,-3.2,-3.0,-3.3,-3.1,-3.4,-3.2,-3.0,-3.3,
  -3.1,-2.9,-3.2,-3.0,-2.8,-2.7,-3.0,-3.2,-3.5,-3.7,
  -3.9,-3.7,-4.0,-3.8,-3.6,-3.9,-3.7,-4.0,-3.8,-4.1,
  -4.1,
];
const BY_UPPER = [
  4.1,3.9,4.3,4.0,4.4,4.6,4.2,5.6,4.4,4.7,
  4.6,4.3,3.9,3.5,3.8,3.6,3.2,3.0,4.3,4.1,
  4.0,4.2,3.8,3.4,3.7,3.9,4.4,4.6,4.3,4.0,
  4.1,3.9,4.3,3.4,3.8,3.6,3.9,3.7,3.5,3.8,
  3.6,3.8,3.5,3.7,3.4,3.6,3.3,3.2,3.4,3.5,
  3.7,3.9,4.2,4.5,4.3,4.6,4.4,4.4,4.2,3.8,
  3.6,3.7,3.5,3.6,3.8,4.2,4.0,4.1,3.9,4.2,
  4.3,4.4,4.1,4.3,4.0,4.1,3.9,4.2,4.0,4.9,
  3.6,
];
const BY_MEDIAN = [
  1.1,1.3,1.5,0.9,0.8,1.0,1.2,1.1,0.9,1.1,
  1.4,1.5,1.3,1.2,1.0,1.3,1.4,1.7,1.5,1.6,
  1.7,1.9,2.0,1.8,2.1,2.1,1.8,1.9,1.6,1.5,
  1.4,1.2,1.3,1.0,0.9,0.8,1.1,0.9,1.3,1.5,
  1.2,1.5,1.3,1.1,0.9,0.8,1.0,0.9,1.1,0.7,
  0.9,1.0,0.8,0.5,0.3,0.6,1.0,1.2,0.9,0.8,
  1.0,0.9,1.1,1.3,1.6,2.0,1.7,1.5,1.6,1.5,
  1.5,1.4,1.2,1.3,1.0,0.9,1.1,1.2,1.0,1.1,
  1.2,
];
const BY_LOWER = [
  -1.2,-1.4,-1.6,-1.3,-1.5,-1.4,-1.1,-0.9,-1.0,-0.8,
  -0.6,-0.7,-0.9,-1.1,-1.0,-1.3,-1.2,-1.5,-1.1,-0.3,
  -0.9,-1.5,-1.3,-1.6,-1.5,-1.3,-1.1,-1.2,-1.0,-0.9,
  -0.9,-1.1,-1.0,-1.2,-1.1,-1.3,-1.4,-1.5,-1.3,-1.5,
  -1.5,-1.4,-1.6,-1.5,-1.3,-1.2,-1.4,-1.3,-1.1,-0.9,
  -0.8,-0.7,-1.0,-1.3,-1.5,-1.4,-1.3,-1.5,-1.6,-1.8,
  -1.9,-2.0,-2.1,-1.7,-1.2,-0.8,-1.0,-1.2,-1.1,-1.3,
  -1.2,-1.1,-1.3,-1.0,-1.2,-0.9,-1.1,-0.8,-0.6,-0.5,
  -0.7,
];

const FONT = "'Noto Sans', 'Open Sans', sans-serif";
const TITLE = "IMF Bx and By traces for Category A Premidnight MPEs at Cape Dorset";
const SUBTITLE = "0 < \u0394tso < 30 min";

// core: range of trace means (nT) drawn with the heavier stroke, where the bundle is densest
const PANELS = [
  { label: "(a)", yName: "IMF Bx  (nT)", left: 57, core: [-6.5, 5.5], traces: BX_TRACES, fine: BX_TRACES_6MIN, upper: BX_UPPER, median: BX_MEDIAN, lower: BX_LOWER, lowerWidth: 3.5 },
  { label: "(b)", yName: "IMF By  (nT)", left: 727, core: [-5.5, 6.5], traces: BY_TRACES, fine: BY_TRACES_6MIN, upper: BY_UPPER, median: BY_MEDIAN, lower: BY_LOWER, lowerWidth: 1.5 },
];
const GRID_TOP = 72;
const GRID_W = 600;
const GRID_H = 440;
const CORE_WIDTH = 3;
const SPIKE_LIMIT = 6; // traces with an excursion this far from their mean keep the thin stroke

function pairs(times: number[], values: number[]) {
  return values
    .map((v, i) => [times[i], v])
    .filter((p) => p[0] !== undefined);
}

function traceSeries(times: number[], values: number[], xi: number, yi: number, core: number[]) {
  const mean = values.reduce((a, b) => a + b, 0) / values.length;
  const excursion = Math.max(...values.map((v) => Math.abs(v - mean)));
  const inCore = mean >= core[0] && mean <= core[1] && excursion < SPIKE_LIMIT;
  return {
    type: "line",
    xAxisIndex: xi,
    yAxisIndex: yi,
    data: pairs(times, values),
    symbol: "none",
    silent: true,
    z: 2,
    lineStyle: { color: "#000", width: inCore ? CORE_WIDTH : 1 },
  };
}

function buildOption() {
  const grid: any[] = [];
  const xAxis: any[] = [];
  const yAxis: any[] = [];
  const series: any[] = [];
  const graphic: any[] = [];

  const axisLine = { show: true, onZero: false, lineStyle: { color: "#000", width: 1 } };

  PANELS.forEach((p, pi) => {
    grid.push({ left: p.left, top: GRID_TOP, width: GRID_W, height: GRID_H, containLabel: false });

    // ticks every half hour, minor ticks every 10 min, labels on whole hours
    const xBase = {
      type: "value",
      gridIndex: pi,
      min: -4,
      max: 4,
      interval: 0.5,
      axisLine,
      splitLine: { show: false },
      axisTick: { show: true, inside: true, length: 8, lineStyle: { color: "#000" } },
      minorTick: { show: true, splitNumber: 3, length: 4, lineStyle: { color: "#000" } },
    };
    xAxis.push({
      ...xBase,
      position: "bottom",
      axisLabel: {
        show: true,
        color: "#000",
        fontSize: 15,
        fontFamily: FONT,
        margin: 7,
        formatter: (v: number) => (Number.isInteger(v) ? String(v) : ""),
      },
      name: "Epoch Time  (hours)",
      nameLocation: "middle",
      nameGap: 38,
      nameTextStyle: { color: "#000", fontSize: 17, fontFamily: FONT },
    });
    xAxis.push({ ...xBase, position: "top", axisLabel: { show: false } });

    const yBase = {
      type: "value",
      gridIndex: pi,
      min: -20,
      max: 20,
      interval: 10,
      axisLine,
      splitLine: { show: false },
      axisTick: { show: true, inside: true, length: 8, lineStyle: { color: "#000" } },
      minorTick: { show: true, splitNumber: 5, length: 5, lineStyle: { color: "#000" } },
    };
    yAxis.push({
      ...yBase,
      position: "left",
      axisLabel: { show: true, color: "#000", fontSize: 14, fontFamily: FONT, margin: 7 },
      name: p.yName,
      nameLocation: "middle",
      nameGap: 31,
      nameRotate: 90,
      nameTextStyle: { color: "#000", fontSize: 16, fontFamily: FONT },
    });
    yAxis.push({ ...yBase, position: "right", axisLabel: { show: false } });

    const xi = pi * 2;
    const yi = pi * 2;

    p.traces.forEach((tr) => series.push(traceSeries(HOURS_12MIN, tr, xi, yi, p.core)));
    p.fine.forEach((tr) => series.push(traceSeries(HOURS_6MIN, tr, xi, yi, p.core)));

    // onset marker at epoch zero
    series.push({
      type: "line",
      xAxisIndex: xi,
      yAxisIndex: yi,
      data: [],
      silent: true,
      z: 3,
      markLine: {
        symbol: "none",
        silent: true,
        label: { show: false },
        lineStyle: { color: "#000", width: 2, type: [8, 6] },
        data: [{ xAxis: 0 }],
      },
    });

    const summary = [
      { values: p.lower, color: "#ff0000", width: p.lowerWidth },
      { values: p.upper, color: "#ff0000", width: 3.5 },
      { values: p.median, color: "#e8c200", width: 3.5 },
    ];
    summary.forEach((s, si) => {
      series.push({
        type: "line",
        xAxisIndex: xi,
        yAxisIndex: yi,
        data: pairs(HOURS_6MIN, s.values),
        symbol: "none",
        silent: true,
        z: 4 + si,
        lineStyle: { color: s.color, width: s.width },
      });
    });

    graphic.push({
      type: "text",
      x: p.left + GRID_W / 2,
      y: 50,
      style: {
        text: SUBTITLE,
        fill: "#000",
        fontSize: 18,
        fontFamily: FONT,
        align: "center",
        verticalAlign: "middle",
        textAlign: "center",
        textVerticalAlign: "middle",
      },
    });
    graphic.push({
      type: "text",
      x: p.left + 20,
      y: 92,
      z: 100,
      style: {
        text: p.label,
        fill: "#000",
        fontSize: 16,
        fontFamily: FONT,
        align: "left",
        verticalAlign: "middle",
        textAlign: "left",
        textVerticalAlign: "middle",
      },
    });
  });

  return {
    animation: false,
    backgroundColor: "#fff",
    title: {
      text: TITLE,
      left: "center",
      top: 8,
      textStyle: { color: "#000", fontSize: 19.5, fontWeight: "normal", fontFamily: FONT },
    },
    grid,
    xAxis,
    yAxis,
    series,
    graphic,
  };
}

export default function App() {
  const ref = useRef<HTMLDivElement>(null);
  useEffect(() => {
    if (!ref.current) return;
    const chart = echarts.init(ref.current, undefined, { renderer: "svg" });
    chart.setOption(buildOption() as any);
    return () => chart.dispose();
  }, []);
  return (
    <div
      ref={ref}
      style={{ position: "fixed", left: 0, top: 0, width: 1340, height: 565, background: "#fff" }}
    />
  );
}
